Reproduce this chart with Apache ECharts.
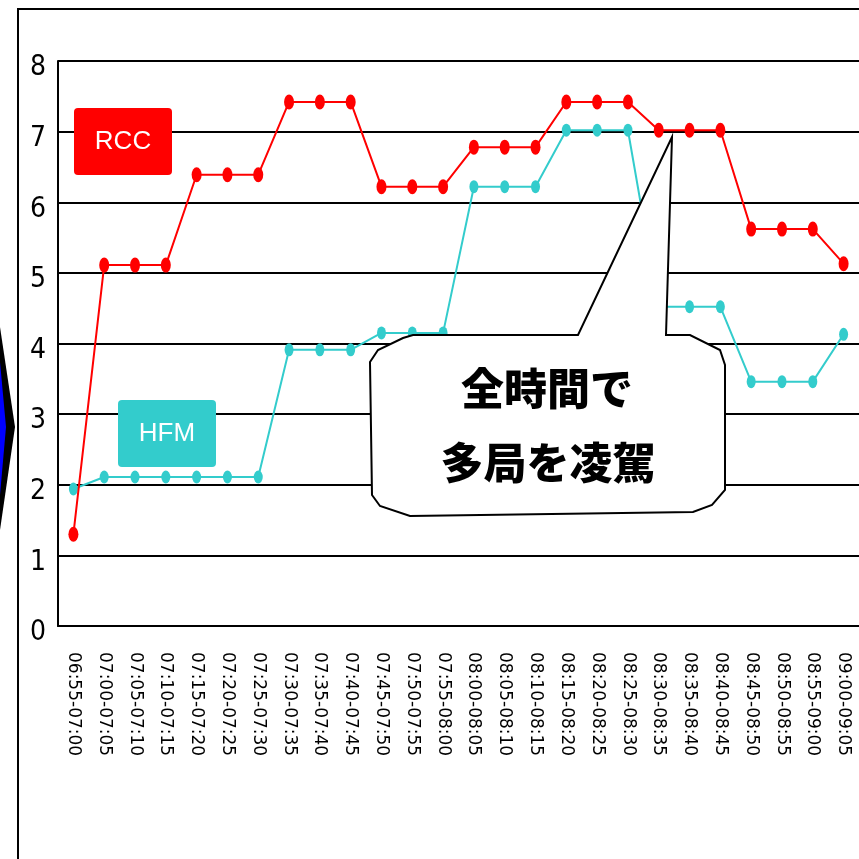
<!DOCTYPE html>
<html><head><meta charset="utf-8">
<script src="https://cdn.jsdelivr.net/npm/echarts@6/dist/echarts.min.js"></script>
<style>html,body{margin:0;padding:0;background:#fff}#c{width:859px;height:859px}</style>
</head><body><div id="c"></div>
<script>
const categories = ["06:55-07:00","07:00-07:05","07:05-07:10","07:10-07:15","07:15-07:20","07:20-07:25","07:25-07:30","07:30-07:35","07:35-07:40","07:40-07:45","07:45-07:50","07:50-07:55","07:55-08:00","08:00-08:05","08:05-08:10","08:10-08:15","08:15-08:20","08:20-08:25","08:25-08:30","08:30-08:35","08:35-08:40","08:40-08:45","08:45-08:50","08:50-08:55","08:55-09:00","09:00-09:05"];
const rccValues = [1.3,5.11,5.11,5.11,6.39,6.39,6.39,7.42,7.42,7.42,6.22,6.22,6.22,6.78,6.78,6.78,7.42,7.42,7.42,7.02,7.02,7.02,5.62,5.62,5.62,5.13];
const hfmValues = [1.94,2.11,2.11,2.11,2.11,2.11,2.11,3.91,3.91,3.91,4.15,4.15,4.15,6.22,6.22,6.22,7.02,7.02,7.02,4.52,4.52,4.52,3.46,3.46,3.46,4.13];
const yTicks = [0,1,2,3,4,5,6,7,8];
const calloutLines = ["全時間で","多局を凌駕"];

const chart = echarts.init(document.getElementById('c'));
chart.setOption({
  animation:false,
  backgroundColor:'#fff',
  grid:{left:58, top:61, width:806, bottom:233},
  xAxis:{type:'category', data:categories, boundaryGap:true,
    axisLine:{lineStyle:{color:'#000', width:2}},
    axisTick:{inside:true, length:10, lineStyle:{color:'#000', width:2}},
    axisLabel:{interval:0, rotate:-90, margin:26, color:'#000', fontFamily:'DejaVu Sans', fontSize:17}
  },
  yAxis:{type:'value', min:yTicks[0], max:yTicks[yTicks.length-1], interval:1,
    axisLine:{show:true, lineStyle:{color:'#000', width:2}},
    axisTick:{show:false},
    splitLine:{lineStyle:{color:'#000', width:2}},
    axisLabel:{color:'#000', margin:12,
      formatter:v=>yTicks.includes(v)?'{n|'+v+'}':'',
      rich:{n:{fontFamily:'"DejaVu Sans Condensed", "Liberation Sans", sans-serif', fontSize:28, color:'#000', padding:[14,0,0,0]}}
    }
  },
  series:[
    {name:'HFM', type:'line', data:hfmValues, symbol:'circle', symbolSize:[9,13],
     itemStyle:{color:'#33CCCC'}, lineStyle:{color:'#33CCCC', width:2}, z:3},
    {name:'RCC', type:'line', data:rccValues, symbol:'circle', symbolSize:[10,15],
     itemStyle:{color:'#FF0000'}, lineStyle:{color:'#FF0000', width:2}, z:4}
  ],
  graphic:[
    {type:'polyline', shape:{points:[[18,859],[18,9],[859,9]]}, style:{stroke:'#000', lineWidth:2, fill:null}, z:100},
    {type:'polygon', shape:{points:[[0,327],[15,427],[0,530]]}, style:{fill:'#000'}, z:100},
    {type:'polygon', shape:{points:[[0,362],[6,427],[0,495]]}, style:{fill:'#0000FF'}, z:101},
    {type:'rect', shape:{x:74, y:108, width:98, height:67, r:4}, style:{fill:'#FF0000'}, z:100},
    {type:'text', x:123, y:142, style:{text:'RCC', fill:'#fff', font:'26px "Liberation Sans"', align:'center', verticalAlign:'middle'}, z:101},
    {type:'rect', shape:{x:118, y:400, width:98, height:67, r:4}, style:{fill:'#33CCCC'}, z:100},
    {type:'text', x:167, y:434, style:{text:'HFM', fill:'#fff', font:'26px "Liberation Sans"', align:'center', verticalAlign:'middle'}, z:101},
    {type:'polygon', shape:{points:[[413,335],[578,335],[672,137],[666,335],[690,335],[720,350],[725,365],[725,490],[712,505],[693,512],[410,516],[380,506],[372,495],[370,362],[378,350],[403,338]]},
      style:{fill:'#fff', stroke:'#000', lineWidth:2}, z:110},
    {type:'text', x:547, y:389, style:{text:calloutLines[0], fill:'#000', font:'900 43px "Noto Sans CJK JP"', align:'center', verticalAlign:'middle'}, z:111},
    {type:'text', x:548, y:463, style:{text:calloutLines[1], fill:'#000', font:'900 43px "Noto Sans CJK JP"', align:'center', verticalAlign:'middle'}, z:111}
  ]
});
</script></body></html>
